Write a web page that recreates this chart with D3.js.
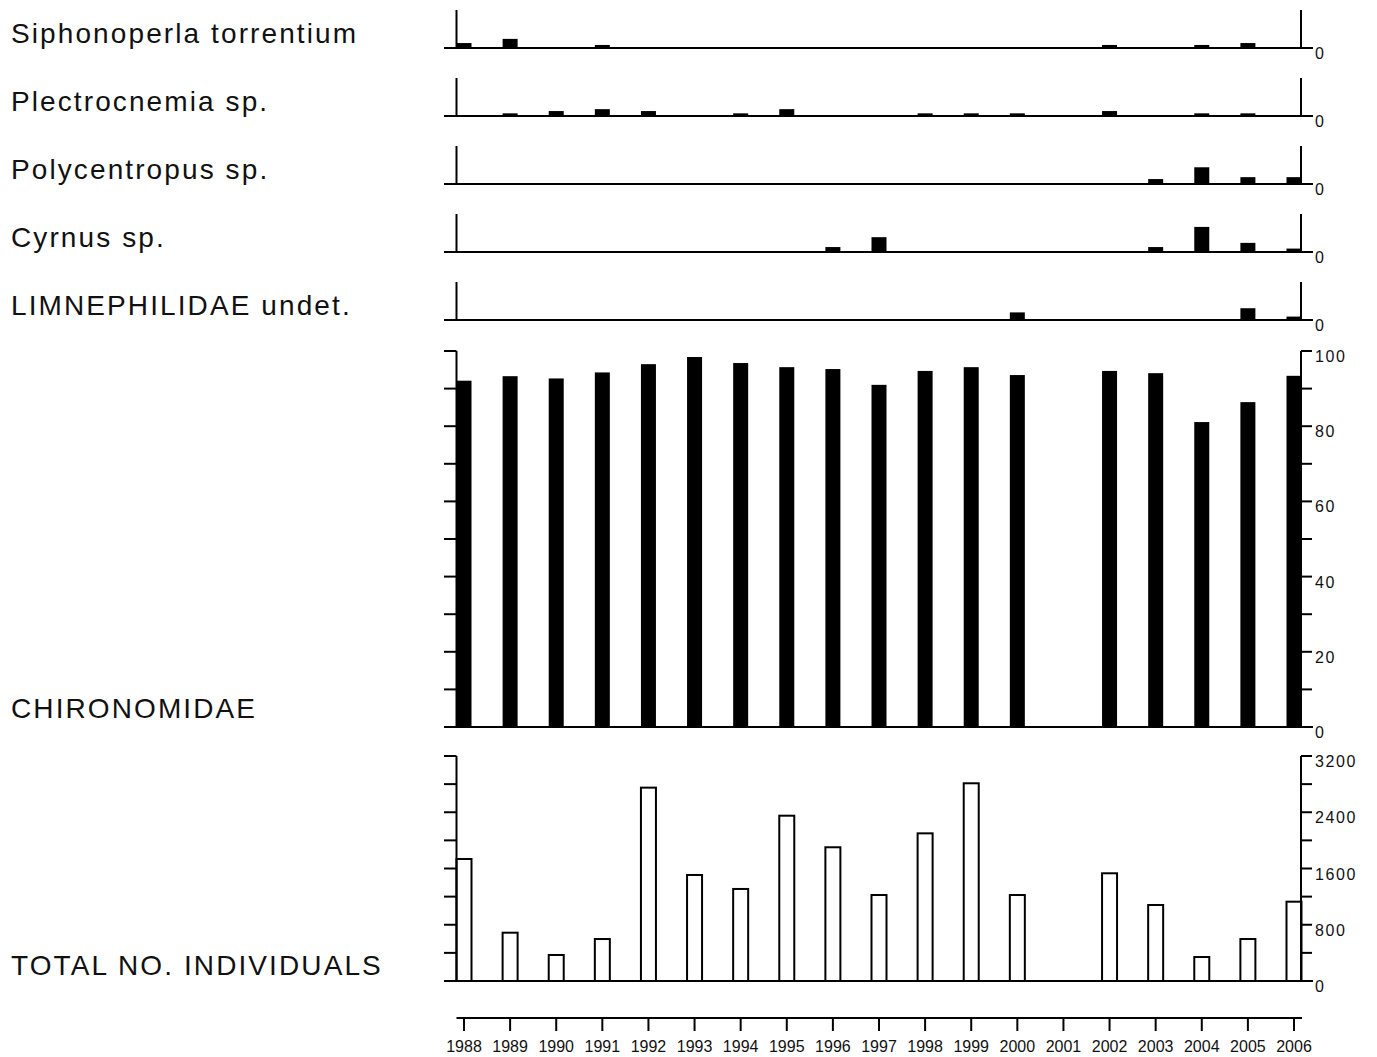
<!DOCTYPE html>
<html>
<head>
<meta charset="utf-8">
<script src="https://cdn.jsdelivr.net/npm/d3@7"></script>
<style>
  body { margin: 0; background: #fff; }
  svg { display: block; }
</style>
</head>
<body>
<div id="chart"></div>
<script>
const years = d3.range(1988, 2007);

// small taxa panels (percent of sample), 0 = absent
const taxa = ['Siphonoperla torrentium', 'Plectrocnemia sp.', 'Polycentropus sp.', 'Cyrnus sp.', 'LIMNEPHILIDAE undet.'];
const siphonoperla = [1.3, 2.4, 0, 0.8, 0, 0, 0, 0, 0, 0, 0, 0, 0, 0, 0.8, 0, 0.8, 1.3, 0];
const plectrocnemia = [0, 0.7, 1.3, 1.8, 1.3, 0, 0.7, 1.8, 0, 0, 0.7, 0.7, 0.7, 0, 1.3, 0, 0.7, 0.7, 0];
const polycentropus = [0, 0, 0, 0, 0, 0, 0, 0, 0, 0, 0, 0, 0, 0, 0, 1.3, 4.4, 1.8, 1.8];
const cyrnus = [0, 0, 0, 0, 0, 0, 0, 0, 1.3, 3.9, 0, 0, 0, 0, 0, 1.3, 6.6, 2.4, 0.9];
const limnephilidae = [0, 0, 0, 0, 0, 0, 0, 0, 0, 0, 0, 0, 2.0, 0, 0, 0, 0, 3.1, 0.9];
const taxaValues = [siphonoperla, plectrocnemia, polycentropus, cyrnus, limnephilidae];

const chironomidae = [92.1, 93.3, 92.7, 94.3, 96.5, 98.4, 96.8, 95.7, 95.2, 91.0, 94.7, 95.7, 93.6, 0, 94.7, 94.1, 81.1, 86.4, 93.4];
const totals = [1735, 687, 370, 597, 2750, 1508, 1309, 2351, 1902, 1223, 2100, 2812, 1223, 0, 1532, 1081, 341, 597, 1128];

const chiroTicks = d3.range(0, 101, 10);
const chiroLabels = [0, 20, 40, 60, 80, 100];
const totalTicks = d3.range(0, 3201, 400);
const totalLabels = [0, 800, 1600, 2400, 3200];

const W = 1377, H = 1057;
const left = 456.5, right = 1301;
const barW = 15;

const svg = d3.select('#chart').append('svg')
    .attr('width', W).attr('height', H);

const x = d3.scaleLinear().domain([1988, 2006]).range([464, 1294]);

const labelFont = 'Liberation Sans, Arial, sans-serif';
const tickFont = 'Liberation Sans Narrow, Liberation Sans, Arial, sans-serif';
const textColor = '#111';

// draws frame + bars of one panel
function panel(top, bottom, domain, values, opts) {
    const y = d3.scaleLinear().domain(domain).range([bottom, top]);
    const g = svg.append('g');

    g.selectAll('rect.bar')
        .data(values.map((v, i) => ({ year: years[i], v })).filter(d => d.v > 0))
        .enter().append('rect')
        .attr('class', 'bar')
        .attr('x', d => x(d.year) - barW / 2)
        .attr('y', d => y(d.v))
        .attr('width', barW)
        .attr('height', d => y(0) - y(d.v))
        .attr('fill', opts.hollow ? '#fff' : '#000')
        .attr('stroke', opts.hollow ? '#000' : 'none')
        .attr('stroke-width', 2);

    // vertical axis lines
    g.append('line').attr('x1', left).attr('x2', left).attr('y1', top).attr('y2', bottom)
        .attr('stroke', '#000').attr('stroke-width', 2);
    g.append('line').attr('x1', right).attr('x2', right).attr('y1', top).attr('y2', bottom)
        .attr('stroke', '#000').attr('stroke-width', 2);

    // baseline running through both zero ticks
    g.append('line').attr('x1', 444).attr('x2', 1313).attr('y1', y(0)).attr('y2', y(0))
        .attr('stroke', '#000').attr('stroke-width', 2);

    const ticks = opts.ticks || [];
    g.selectAll('line.lt').data(ticks).enter().append('line')
        .attr('x1', 444).attr('x2', left).attr('y1', d => y(d)).attr('y2', d => y(d))
        .attr('stroke', '#000').attr('stroke-width', 2);
    g.selectAll('line.rt').data(ticks).enter().append('line')
        .attr('x1', right).attr('x2', 1312).attr('y1', d => y(d)).attr('y2', d => y(d))
        .attr('stroke', '#000').attr('stroke-width', 2);

    g.selectAll('text.tl').data(opts.labels || [0]).enter().append('text')
        .attr('x', 1315).attr('y', d => y(d) + 11)
        .attr('font-family', labelFont).attr('font-size', 16)
        .attr('letter-spacing', 1.6)
        .attr('fill', textColor)
        .text(d => d);
}

function rowLabel(text, yPos) {
    svg.append('text')
        .attr('x', 11).attr('y', yPos)
        .attr('font-family', labelFont).attr('font-size', 28)
        .attr('letter-spacing', 2.1)
        .attr('fill', textColor)
        .text(text);
}

// five small taxa panels
const smallTops = [10, 78, 146, 214, 282];
taxa.forEach((name, i) => {
    const top = smallTops[i];
    panel(top, top + 38, [0, 10], taxaValues[i], { ticks: [], labels: [0] });
    rowLabel(name, top + 33);
});

panel(351, 727, [0, 100], chironomidae, { ticks: chiroTicks, labels: chiroLabels });
rowLabel('CHIRONOMIDAE', 718);

panel(756, 981, [0, 3200], totals, { ticks: totalTicks, labels: totalLabels, hollow: true });
rowLabel('TOTAL NO. INDIVIDUALS', 975);

// year axis
const xAxis = svg.append('g');
xAxis.append('line').attr('x1', left).attr('x2', right + 1).attr('y1', 1018).attr('y2', 1018)
    .attr('stroke', '#000').attr('stroke-width', 2);
xAxis.selectAll('line.yt').data(years).enter().append('line')
    .attr('x1', d => x(d)).attr('x2', d => x(d)).attr('y1', 1018).attr('y2', 1031)
    .attr('stroke', '#000').attr('stroke-width', 2);
xAxis.selectAll('text').data(years).enter().append('text')
    .attr('x', d => x(d)).attr('y', 1052)
    .attr('text-anchor', 'middle')
    .attr('font-family', tickFont).attr('font-size', 16)
    .attr('fill', textColor)
    .text(d => d);
</script>
</body>
</html>
